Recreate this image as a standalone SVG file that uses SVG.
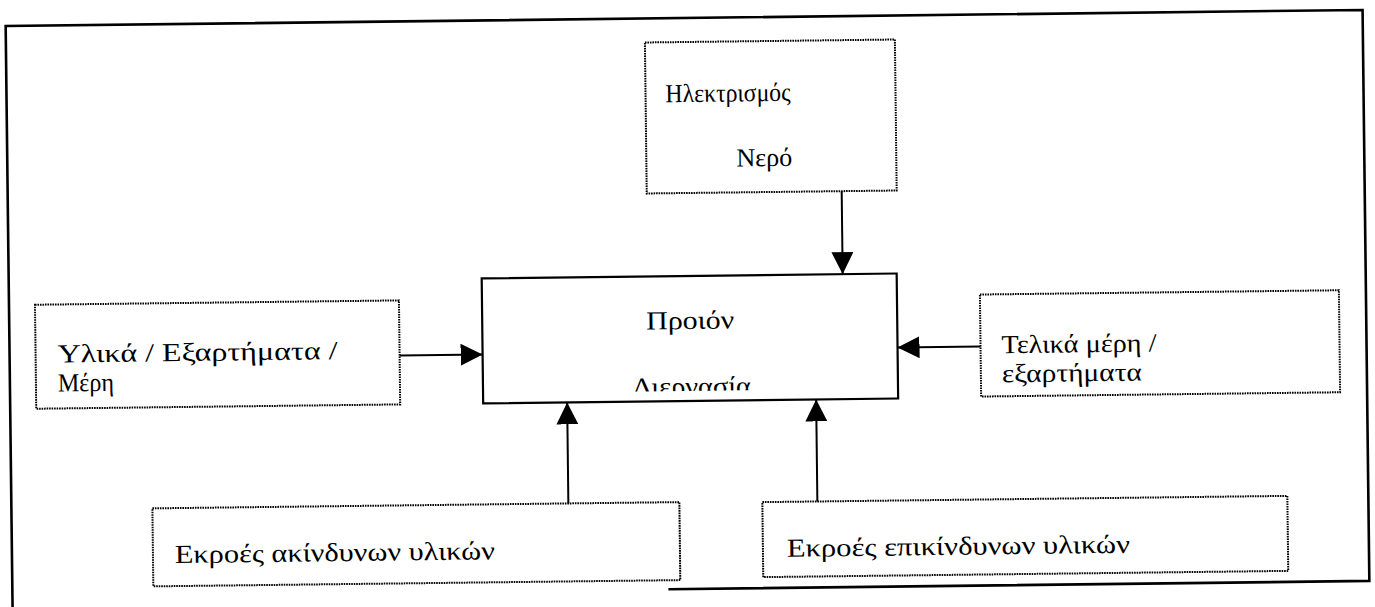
<svg xmlns="http://www.w3.org/2000/svg" width="1375" height="607" viewBox="0 0 1375 607">
  <style>
    .frame { fill: none; stroke: #000; stroke-width: 2.6; }
    .box { fill: #fff; stroke: #000; stroke-width: 2; stroke-dasharray: 1.6 0.9; }
    .main { fill: #fff; stroke: #000; stroke-width: 2.2; }
    .lbl { font-family: "Liberation Serif", "DejaVu Serif", serif; font-size: 26px; fill: #000; }
    .mid { text-anchor: middle; }
    .conn line { stroke: #000; stroke-width: 2; marker-end: url(#head); }
  </style>
  <defs>
    <marker id="head" viewBox="0 0 10 10" refX="10" refY="5" markerWidth="22" markerHeight="22" markerUnits="userSpaceOnUse" orient="auto">
      <path d="M0,0 L10,5 L0,10 z" fill="#000"/>
    </marker>
    <clipPath id="clipMain">
      <rect x="482" y="276" width="415" height="115"/>
    </clipPath>
  </defs>
  <rect width="1375" height="607" fill="#fff"/>
  <g transform="rotate(-0.68 687 303)">
    <!-- page frame -->
    <path class="frame" d="M9,625 L9,18 L1366,18 L1366,589 L665,589"/>

    <g id="node-utilities">
      <rect class="box" x="648" y="42" width="250" height="151"/>
      <text class="lbl" x="668" y="102" textLength="125" lengthAdjust="spacingAndGlyphs">Ηλεκτρισμός</text>
      <text class="lbl" x="738" y="167" textLength="56" lengthAdjust="spacingAndGlyphs">Νερό</text>
    </g>

    <g id="node-process">
      <rect class="main" x="482" y="276" width="415" height="125"/>
      <text class="lbl mid" x="690" y="329" textLength="88" lengthAdjust="spacingAndGlyphs">Προιόν</text>
      <text class="lbl mid" x="691" y="395" textLength="118" lengthAdjust="spacingAndGlyphs" clip-path="url(#clipMain)">Διεργασία</text>
    </g>

    <g id="node-materials">
      <rect class="box" x="35" y="297" width="364" height="104"/>
      <text class="lbl" x="57" y="355" textLength="280" lengthAdjust="spacingAndGlyphs">Υλικά / Εξαρτήματα /</text>
      <text class="lbl" x="57" y="384" textLength="56" lengthAdjust="spacingAndGlyphs">Μέρη</text>
    </g>

    <g id="node-final-parts">
      <rect class="box" x="980" y="298" width="359" height="102"/>
      <text class="lbl" x="1001" y="357" textLength="155" lengthAdjust="spacingAndGlyphs">Τελικά μέρη /</text>
      <text class="lbl" x="1001" y="386" textLength="140" lengthAdjust="spacingAndGlyphs">εξαρτήματα</text>
    </g>

    <g id="node-safe-out">
      <rect class="box" x="150" y="502" width="527" height="78"/>
      <text class="lbl" x="172" y="557" textLength="320" lengthAdjust="spacingAndGlyphs">Εκροές ακίνδυνων υλικών</text>
    </g>

    <g id="node-hazard-out">
      <rect class="box" x="760" y="503" width="525" height="75"/>
      <text class="lbl" x="784" y="558" textLength="343" lengthAdjust="spacingAndGlyphs">Εκροές επικίνδυνων υλικών</text>
    </g>

    <g id="connectors" class="conn">
      <line x1="843" y1="193" x2="843" y2="276"/>
      <line x1="399" y1="352" x2="482" y2="352"/>
      <line x1="980" y1="350" x2="897" y2="350"/>
      <line x1="566" y1="502" x2="566" y2="401"/>
      <line x1="815" y1="503" x2="815" y2="401"/>
    </g>
  </g>
</svg>
